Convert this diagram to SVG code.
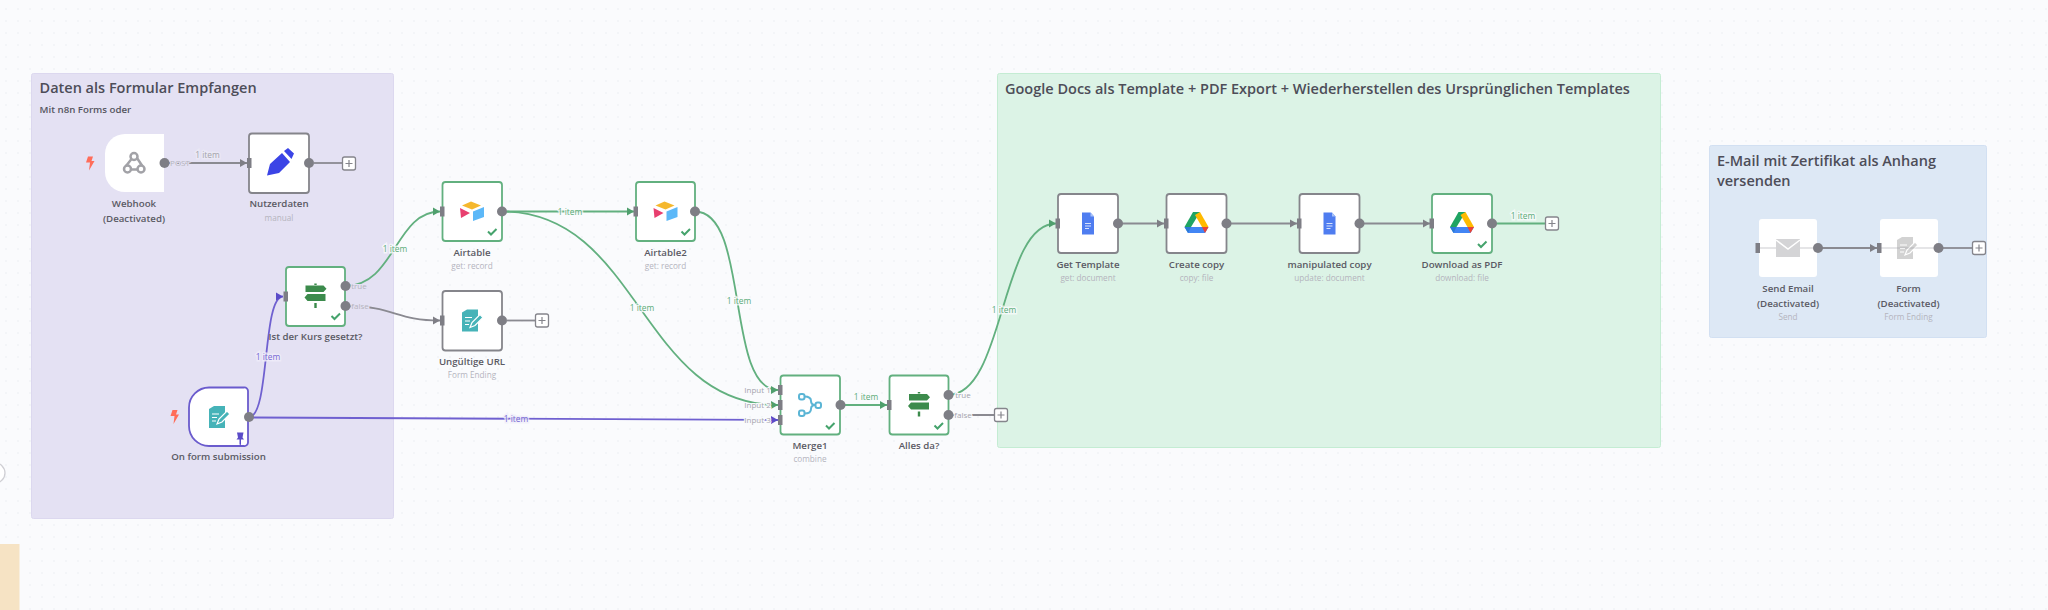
<svg xmlns="http://www.w3.org/2000/svg" width="2048" height="610" viewBox="0 0 2048 610">
<style>
text{font-family:"Open Sans","Noto Sans","Liberation Sans",sans-serif}
.ttl{font-size:14.500px;font-weight:600;fill:#4d4d58}
.sub{font-size:9.700px;font-weight:600;fill:#55555f}
.nl{font-size:9.700px;font-weight:600;fill:#5a5a64;text-anchor:middle}
.ns{font-size:8.200px;fill:#b4b4bd;text-anchor:middle}
.el{font-size:8.400px;text-anchor:middle;paint-order:stroke;stroke-width:3px;stroke-opacity:.75}
.pl{font-size:8px;fill:#a4a4ad;text-anchor:middle;paint-order:stroke;stroke:#fafbfd;stroke-width:2px}
.pv{stroke:#e4e1f3;fill:#b4b4bd}
.g{fill:#5aab78;stroke:#fafbfd}.p{fill:#7567d3;stroke:#f0eefa}.y{fill:#a4a4ab;stroke:#ecebf6}
.box{fill:#fff;stroke-width:1.800}
.bg{stroke:#62b07f}.bp{stroke:#6a5bcd}.bn{stroke:#85858b}
.c{fill:none;stroke-width:1.800}
.cg{stroke:#62b07f}.cp{stroke:#6f60d0}.cn{stroke:#8a8a91}
.out{fill:#7e7e85}.in{fill:#7e7e85}
.chk{fill:none;stroke:#45a36c;stroke-width:2}
.plus rect{fill:#fff;stroke:#85858c;stroke-width:1.300}
.plus path{stroke:#85858c;stroke-width:1.200;fill:none}
.bolt{fill:#ff6d5a}
</style>
<defs>
<pattern id="dots" width="12" height="12" patternUnits="userSpaceOnUse" x="5" y="8"><circle cx="1" cy="1" r=".9" fill="#f1f2f6"/></pattern>
<marker id="ag" markerWidth="8" markerHeight="10" refX="7" refY="5" orient="auto" markerUnits="userSpaceOnUse"><path d="M0 1L7 5L0 9Z" fill="#4f9f6d"/></marker>
<marker id="ap" markerWidth="8" markerHeight="10" refX="7" refY="5" orient="auto" markerUnits="userSpaceOnUse"><path d="M0 1L7 5L0 9Z" fill="#5a4bc8"/></marker>
<marker id="an" markerWidth="8" markerHeight="10" refX="7" refY="5" orient="auto" markerUnits="userSpaceOnUse"><path d="M0 1L7 5L0 9Z" fill="#7e7e85"/></marker>
<path id="bolt" d="M-2-7H3L1.500-2.500H4.500L-1 7L0-1H-4Z"/>
<g id="chk"><path class="chk" d="M-4.500 0L-1.500 3L4-2.500"/></g>
<g id="plus" class="plus"><rect x="-6.500" y="-6.500" width="13" height="13" rx="2"/><path d="M-3.500 0H3.500M0-3.500V3.500"/></g>
<g id="air"><path d="M-10-5.500L-1-9.500L9-5.500L0-1.500Z" fill="#f5b82e"/><path d="M1 0.500L12-4V6L1 10Z" fill="#5cb8f8"/><path d="M-12-3L-2 2L-11 7Z" fill="#e83f6f"/></g>
<g id="sw"><path d="M-10-11H8L11-7.700L8-4.500H-10Z M-8-2.500H10V4.500H-8L-11 1Z" fill="#3c8b4c"/><path d="M-1.200 6.500H1.200V11.500H-1.200Z M-1.200-13H1.200V-11.500H-1.200Z" fill="#3c8b4c"/></g>
<g id="doc"><path d="M-6-11H2.500L6-7V11H-6Z" fill="#4f7df0"/><path d="M2.500-11L6-7H2.500Z" fill="#a8c2f8"/><path d="M-3 0H3M-3 2.500H3M-3 5H1" stroke="#d8e3fc" stroke-width="1" fill="none"/></g>
<g id="drv"><path d="M-3.500-11H3.500L0-5L-5.500 4H-12Z" fill="#1fa463"/><path d="M3.500-11L12 4H5.500L-1.500-8Z" fill="#ffba00"/><path d="M-5.500 4H12L8.500 10H-8.500L-12 4Z" fill="#4285f4"/><path d="M5.500 4H12L8.500 10Z" fill="#ea4335"/><path d="M-12 4H-5.500L-8.500 10Z" fill="#2b7bd4"/></g>
<g id="frm"><path d="M-10-8L-5-11H6V11H-10Z" fill="#46b3b8"/><path d="M-7-3H0M-7 0.500H-2M-7 4H-3" stroke="#fff" stroke-width="1.200" fill="none"/><path d="M-2 7L0 2L8-6L11-3L3 5Z" fill="#46b3b8" stroke="#fff" stroke-width="1.200"/></g>
</defs>
<rect width="2048" height="610" fill="#fafbfd"/>
<rect width="2048" height="610" fill="url(#dots)"/>

<g id="stickies">
<g id="sticky-purple"><rect x="31.500" y="73.500" width="362" height="445" rx="2" fill="#e4e1f3" stroke="#dcd8ef"/><text class="ttl" x="39.500" y="93">Daten als Formular Empfangen</text><text class="sub" x="39.500" y="113">Mit n8n Forms oder</text></g>
<g id="sticky-green"><rect x="997.500" y="73.500" width="663" height="374" rx="2" fill="#dcf3e6" stroke="#c4ecd3"/><text class="ttl" x="1005" y="93.500">Google Docs als Template + PDF Export + Wiederherstellen des Ursprünglichen Templates</text></g>
<g id="sticky-blue"><rect x="1709.500" y="145.500" width="277" height="192" rx="2" fill="#dde8f5" stroke="#d2e0f2"/><text class="ttl" x="1717" y="165.500">E-Mail mit Zertifikat als Anhang</text><text class="ttl" x="1717" y="186">versenden</text></g>
<rect id="sticky-orange" x="0" y="544" width="19.500" height="66" fill="#f6e3c4"/>
<circle id="edge-control" cx="-5" cy="473" r="10" fill="#fff" stroke="#cfcfd4" stroke-width="1.300"/>
</g>

<g id="connectors">
<path class="c cn" d="M169 163H247" marker-end="url(#an)"/>
<path class="c cn" d="M314 163H342"/>
<path class="c cp" d="M249 417C270 417 262 296.500 283 296.500" marker-end="url(#ap)"/>
<path class="c cp" d="M251 417.500L778 420" marker-end="url(#ap)"/>
<path class="c cg" d="M345 286C395 286 395 211.500 440 211.500" marker-end="url(#ag)"/>
<path class="c cn" d="M345 306C395 306 395 320.500 440 320.500" marker-end="url(#an)"/>
<path class="c cn" d="M507 320.500H536"/>
<path class="c cg" d="M507 211.500H634" marker-end="url(#ag)"/>
<path class="c cg" d="M502 211.500C640 211.500 640 405 778 405" marker-end="url(#ag)"/>
<path class="c cg" d="M695 211.500C750 211.500 725 390 778 390" marker-end="url(#ag)"/>
<path class="c cg" d="M844 405H887" marker-end="url(#ag)"/>
<path class="c cg" d="M948 395C1005 395 1000 223.500 1056 223.500" marker-end="url(#ag)"/>
<path class="c cn" d="M952 415H995"/>
<path class="c cn" d="M1122 223.500H1164" marker-end="url(#an)"/>
<path class="c cn" d="M1230 223.500H1297" marker-end="url(#an)"/>
<path class="c cn" d="M1363 223.500H1430" marker-end="url(#an)"/>
<path class="c cg" d="M1496 223.500H1546"/>
<path class="c cn" d="M1821 248H1877" marker-end="url(#an)"/>
<path class="c cn" d="M1942 248H1973"/>
<text class="el y" x="207.500" y="158">1 item</text>
<text class="pl pv" x="180" y="166">POST</text>
<text class="pl pv" x="359" y="289">true</text>
<text class="pl pv" x="360" y="309">false</text>
<text class="el g" x="395" y="252">1 item</text>
<text class="el p" x="268" y="360">1 item</text>
<text class="el p" x="516" y="421.500">1 item</text>
<text class="el g" x="570" y="214.500">1 item</text>
<text class="el g" x="642" y="311">1 item</text>
<text class="el g" x="739" y="304">1 item</text>
<text class="el g" x="866" y="400">1 item</text>
<text class="el g" x="1004" y="312.500">1 item</text>
<text class="el g" x="1523" y="218.500">1 item</text>
<text class="pl" x="757.500" y="393">Input 1</text>
<text class="pl" x="757.500" y="408">Input 2</text>
<text class="pl" x="757.500" y="423">Input 3</text>
<text class="pl" x="963" y="398">true</text>
<text class="pl" x="963" y="418">false</text>
</g>

<g id="plus-buttons">
<use href="#plus" x="349" y="163.500"/><use href="#plus" x="542" y="320.500"/><use href="#plus" x="1001" y="415"/><use href="#plus" x="1552" y="223.500"/><use href="#plus" x="1979" y="248"/>
</g>

<g id="node-webhook"><use href="#bolt" x="90" y="163.500" class="bolt"/><path d="M125 134H164V192H125A20 20 0 0 1 105 172V154A20 20 0 0 1 125 134Z" fill="#fff"/>
<g fill="none" stroke="#a2a2a7" stroke-width="2.500"><circle cx="134" cy="156.500" r="3.500"/><circle cx="127.500" cy="169" r="3.500"/><circle cx="141" cy="169" r="3.500"/><path d="M131.500 159L126 166M137 158L142 165.500M131.500 169.500H137.500"/></g>
<circle class="out" cx="164.500" cy="163" r="5"/><text class="nl" x="134" y="207">Webhook</text><text class="nl" x="134" y="221.500">(Deactivated)</text></g>

<g id="node-nutzerdaten"><rect class="box bn" x="249" y="133.500" width="60" height="59.500" rx="3"/><path d="M267 175.500L270 164L282 153L290 162L279 173Z M284 151L288 148L294 153.500L291.500 159Z" fill="#3b44e6"/><rect class="in" x="247" y="158" width="4.500" height="10"/><circle class="out" cx="309" cy="163" r="5"/><text class="nl" x="279" y="207">Nutzerdaten</text><text class="ns" x="279" y="220.500">manual</text></g>

<g id="node-ist"><rect class="box bg" x="286" y="267" width="59" height="59" rx="3"/><use href="#sw" x="315.500" y="296.500"/><use href="#chk" x="336" y="316"/><rect class="in" x="283.500" y="291.500" width="4.500" height="10"/><circle class="out" cx="345.500" cy="286" r="5"/><circle class="out" cx="345.500" cy="306" r="5"/><text class="nl" x="315.500" y="340">Ist der Kurs gesetzt?</text></g>

<g id="node-form-trigger"><use href="#bolt" x="174.500" y="417" class="bolt"/><path d="M209 387.500H244A3.500 3.500 0 0 1 248 391V442.500A3.500 3.500 0 0 1 244 446H209A20 20 0 0 1 189 426V407.500A20 20 0 0 1 209 387.500Z" fill="#fff" stroke="#6a5bcd" stroke-width="1.800"/><use href="#frm" x="219" y="417"/><path d="M237 432.500H243.500L242.500 437.500L244 439.500H241V444L240.300 446L239.500 444V439.500H236.500L238 437.500Z" fill="#5a4bc8"/><circle class="out" cx="249" cy="417" r="5"/><text class="nl" x="218.500" y="460">On form submission</text></g>

<g id="node-airtable"><rect class="box bg" x="442.500" y="182" width="59.500" height="59" rx="3"/><use href="#air" x="472" y="211"/><use href="#chk" x="492.500" y="231.500"/><rect class="in" x="440" y="206.500" width="4.500" height="10"/><circle class="out" cx="502" cy="211.500" r="5"/><text class="nl" x="472" y="255.500">Airtable</text><text class="ns" x="472" y="268.500">get: record</text></g>

<g id="node-airtable2"><rect class="box bg" x="636" y="182" width="59" height="59" rx="3"/><use href="#air" x="665.500" y="211"/><use href="#chk" x="686" y="231.500"/><rect class="in" x="633.500" y="206.500" width="4.500" height="10"/><circle class="out" cx="695" cy="211.500" r="5"/><text class="nl" x="665.500" y="255.500">Airtable2</text><text class="ns" x="665.500" y="268.500">get: record</text></g>

<g id="node-ungueltig"><rect class="box bn" x="442.500" y="291" width="59.500" height="59.500" rx="3"/><use href="#frm" x="472" y="320.500"/><rect class="in" x="440" y="315.500" width="4.500" height="10"/><circle class="out" cx="502" cy="320.500" r="5"/><text class="nl" x="472" y="364.500">Ungültige URL</text><text class="ns" x="472" y="377.500">Form Ending</text></g>

<g id="node-merge"><rect class="box bg" x="780.500" y="375.500" width="59.500" height="59" rx="3"/><g fill="none" stroke="#5bb5d5" stroke-width="2"><rect x="799" y="394" width="5.500" height="5.500" rx="2"/><rect x="799" y="410.500" width="5.500" height="5.500" rx="2"/><rect x="815.500" y="402.500" width="5.500" height="5.500" rx="2"/><path d="M804.500 396.500Q811 396.500 811 401Q811 405 815.500 405M804.500 413.500Q811 413.500 811 409Q811 405 815.500 405"/></g><use href="#chk" x="830.500" y="425.500"/><rect class="in" x="778" y="385" width="4.500" height="10"/><rect class="in" x="778" y="400" width="4.500" height="10"/><rect class="in" x="778" y="415" width="4.500" height="10"/><circle class="out" cx="840.500" cy="405" r="5"/><text class="nl" x="810" y="449">Merge1</text><text class="ns" x="810" y="462">combine</text></g>

<g id="node-alles"><rect class="box bg" x="889.500" y="375.500" width="59" height="59" rx="3"/><use href="#sw" x="919" y="405"/><use href="#chk" x="939" y="425.500"/><rect class="in" x="887" y="400" width="4.500" height="10"/><circle class="out" cx="948.500" cy="395" r="5"/><circle class="out" cx="948.500" cy="415" r="5"/><text class="nl" x="919" y="449">Alles da?</text></g>

<g id="node-get-template"><rect class="box bn" x="1058" y="194" width="60" height="59" rx="3"/><use href="#doc" x="1088" y="223.500"/><rect class="in" x="1055.500" y="218.500" width="4.500" height="10"/><circle class="out" cx="1118" cy="223.500" r="5"/><text class="nl" x="1088" y="267.500">Get Template</text><text class="ns" x="1088" y="280.500">get: document</text></g>

<g id="node-create-copy"><rect class="box bn" x="1166.500" y="194" width="60" height="59" rx="3"/><use href="#drv" x="1196.500" y="223"/><rect class="in" x="1164" y="218.500" width="4.500" height="10"/><circle class="out" cx="1226.500" cy="223.500" r="5"/><text class="nl" x="1196.500" y="267.500">Create copy</text><text class="ns" x="1196.500" y="280.500">copy: file</text></g>

<g id="node-manipulated"><rect class="box bn" x="1299.500" y="194" width="60" height="59" rx="3"/><use href="#doc" x="1329.500" y="223.500"/><rect class="in" x="1297" y="218.500" width="4.500" height="10"/><circle class="out" cx="1359.500" cy="223.500" r="5"/><text class="nl" x="1329.500" y="267.500">manipulated copy</text><text class="ns" x="1329.500" y="280.500">update: document</text></g>

<g id="node-download"><rect class="box bg" x="1432" y="194" width="60" height="59" rx="3"/><use href="#drv" x="1462" y="223"/><use href="#chk" x="1482.500" y="244"/><rect class="in" x="1429.500" y="218.500" width="4.500" height="10"/><circle class="out" cx="1492" cy="223.500" r="5"/><text class="nl" x="1462" y="267.500">Download as PDF</text><text class="ns" x="1462" y="280.500">download: file</text></g>

<g id="node-send-email"><rect x="1759" y="219" width="58" height="58" rx="3" fill="#fff"/><path d="M1760 248H1816" stroke="#dcdcdf" stroke-width="1.500"/><path d="M1776 239H1800V257H1776Z" fill="#d4d4d6"/><path d="M1776 240L1788 249L1800 240" fill="none" stroke="#fff" stroke-width="1.500"/><rect class="in" x="1755.500" y="243" width="4.500" height="10"/><circle class="out" cx="1818" cy="248" r="5"/><text class="nl" x="1788" y="292">Send Email</text><text class="nl" x="1788" y="306.500">(Deactivated)</text><text class="ns" x="1788" y="319.500">Send</text></g>

<g id="node-form"><rect x="1880" y="219" width="58" height="58" rx="3" fill="#fff"/><path d="M1881 248H1937" stroke="#dcdcdf" stroke-width="1.500"/><g opacity=".45"><use href="#frm" x="1907" y="248" style="filter:grayscale(1)"/></g><rect class="in" x="1877" y="243" width="4.500" height="10"/><circle class="out" cx="1938.500" cy="248" r="5"/><text class="nl" x="1908.500" y="292">Form</text><text class="nl" x="1908.500" y="306.500">(Deactivated)</text><text class="ns" x="1908.500" y="319.500">Form Ending</text></g>
</svg>
